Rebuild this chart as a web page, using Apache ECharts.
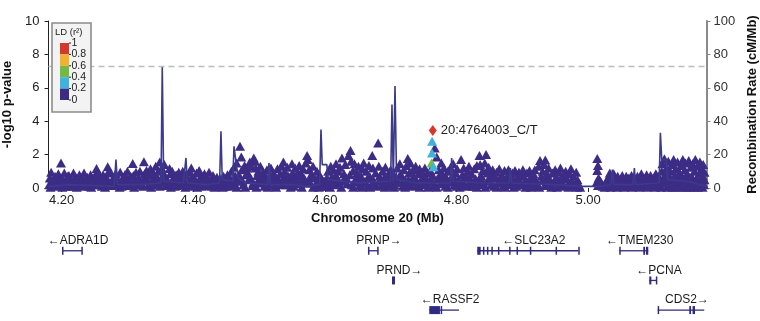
<!DOCTYPE html>
<html>
<head>
<meta charset="utf-8">
<script src="https://cdn.jsdelivr.net/npm/echarts@6/dist/echarts.min.js"></script>
<style>
  html, body { margin: 0; padding: 0; background: #fff; }
  #chart { width: 760px; height: 321px; }
</style>
</head>
<body>
<div id="chart"></div>
<script>
  // x ticks (Mb) and axis labels
  const xTicks = [4.2, 4.4, 4.6, 4.8, 5.0];
  const gwasLine = 7.3;

  // LD bins
  const ldBreaks = [0, 0.2, 0.4, 0.6, 0.8];
  const ldColors = ['#3d2c85', '#3fb3dc', '#74b944', '#f4b02f', '#d7382c'];
  const ldLabels = ['1', '0.8', '0.6', '0.4', '0.2', '0'];

  // SNPs with r2 < 0.2 : [position Mb, -log10 p]
  const snpsA = [
    [4.181,0.2],[4.182,0.6],[4.184,0.95],[4.186,0.35],[4.189,0.1],[4.190,0.7],[4.193,0.45],[4.195,0.85],[4.197,0.2],[4.199,1.5],
    [4.200,0.6],[4.202,0.3],[4.204,0.9],[4.206,0.1],[4.208,0.55],[4.211,0.75],[4.213,0.25],[4.215,0.45],[4.218,0.9],[4.220,0.1],
    [4.222,0.6],[4.225,0.3],[4.227,0.8],[4.230,0.5],[4.232,0.15],[4.234,0.9],[4.237,0.35],[4.239,0.65],[4.242,0.1],[4.244,0.8],
    [4.246,0.45],[4.249,0.2],[4.250,0.7],[4.253,1.17],[4.254,0.9],[4.256,0.35],[4.258,0.55],[4.261,0.1],[4.263,0.8],[4.265,0.4],
    [4.267,0.65],[4.270,1.27],[4.271,0.95],[4.273,0.2],[4.275,0.9],[4.277,0.5],[4.280,0.15],[4.282,0.85],[4.284,0.6],[4.286,0.3],
    [4.289,0.95],[4.291,0.1],[4.293,0.6],[4.296,0.8],[4.298,0.3],[4.300,1.0],[4.302,0.5],[4.304,0.15],[4.308,1.47],[4.309,0.75],
    [4.310,0.4],[4.313,0.95],[4.315,0.2],[4.317,0.6],[4.319,1.0],[4.321,0.3],[4.325,1.57],[4.326,0.85],[4.327,0.5],[4.329,1.05],
    [4.331,0.15],[4.333,0.8],[4.335,1.15],[4.337,0.4],[4.339,0.95],[4.341,0.2],[4.343,1.3],[4.345,0.65],[4.347,1.0],[4.349,1.55],
    [4.350,0.35],[4.352,1.2],[4.354,0.8],[4.356,1.4],[4.358,0.15],[4.360,0.5],[4.364,1.17],[4.365,0.85],[4.366,0.3],[4.368,1.0],
    [4.370,0.6],[4.372,0.1],[4.374,0.8],[4.376,0.4],[4.378,0.95],[4.380,0.2],[4.382,0.65],[4.384,1.0],[4.386,0.35],[4.388,0.8],
    [4.390,0.15],[4.392,0.55],[4.394,0.95],[4.397,1.2],[4.398,0.3],[4.399,0.7]
  ];
  const snpsB = [
    [4.401,0.1],[4.403,0.5],[4.405,0.9],[4.407,0.25],[4.409,1.05],[4.411,0.65],[4.413,0.1],[4.415,0.4],[4.417,0.85],[4.420,0.2],
    [4.422,0.6],[4.424,0.95],[4.426,0.35],[4.428,0.1],[4.430,0.75],[4.432,0.45],[4.434,0.15],[4.436,0.65],[4.438,0.35],[4.440,0.1],
    [4.442,0.55],[4.444,0.25],[4.446,0.7],[4.448,0.1],[4.450,0.45],[4.452,0.8],[4.454,0.2],[4.456,0.6],[4.458,1.0],[4.460,0.3],
    [4.462,1.25],[4.464,0.7],[4.466,1.5],[4.468,0.45],[4.471,2.5],[4.473,1.85],[4.474,1.1],[4.476,0.2],[4.478,1.35],[4.480,0.8],
    [4.482,1.2],[4.484,0.5],[4.486,1.55],[4.488,1.3],[4.490,0.15],[4.492,1.8],[4.494,1.6],[4.495,1.2],[4.497,0.75],[4.499,1.0],
    [4.500,0.35],[4.502,1.3],[4.504,0.6],[4.506,0.95],[4.508,0.1],[4.510,0.5],[4.512,1.1],[4.514,0.25],[4.516,0.75],[4.518,1.2],
    [4.520,0.4],[4.522,0.9],[4.524,0.15],[4.526,0.6],[4.528,1.15],[4.530,0.3],[4.532,0.85],[4.534,1.3],[4.536,0.5],[4.537,1.55],
    [4.539,1.0],[4.541,0.2],[4.543,1.25],[4.545,0.7],[4.547,0.35],[4.550,1.45],[4.551,0.9],[4.553,0.1],[4.555,1.2],[4.557,0.55],
    [4.559,0.95],[4.561,1.35],[4.563,0.25],[4.565,0.8],[4.567,1.15],[4.569,0.45],[4.571,1.5],[4.573,1.95],[4.574,1.7],[4.576,1.1],
    [4.578,0.3],[4.580,0.85],[4.582,1.3],[4.584,0.6],[4.586,0.15],[4.588,1.0],[4.590,0.45],[4.592,0.8],[4.594,0.2],[4.596,0.5],
    [4.598,0.1],[4.599,0.4]
  ];
  const snpsC = [
    [4.601,0.1],[4.603,0.6],[4.605,1.0],[4.607,0.3],[4.609,1.3],[4.611,0.7],[4.613,1.1],[4.615,0.2],[4.617,1.45],[4.619,0.5],
    [4.621,1.0],[4.623,1.25],[4.626,1.8],[4.627,0.4],[4.629,0.85],[4.631,1.4],[4.633,0.6],[4.636,1.95],[4.639,2.25],[4.640,1.6],
    [4.641,0.2],[4.643,1.05],[4.645,1.45],[4.647,0.55],[4.649,0.9],[4.651,1.3],[4.653,0.15],[4.655,0.7],[4.657,1.15],[4.659,1.5],
    [4.661,0.4],[4.663,1.0],[4.665,0.1],[4.667,1.35],[4.669,0.65],[4.672,1.95],[4.673,1.2],[4.675,0.3],[4.677,0.9],[4.681,2.7],
    [4.682,1.3],[4.684,0.5],[4.686,0.15],[4.688,1.0],[4.690,0.6],[4.692,1.25],[4.694,0.25],[4.696,0.8],[4.698,0.1],[4.700,1.1],
    [4.702,0.45],[4.704,0.85],[4.706,0.2],[4.708,0.6],[4.710,1.2],[4.712,0.35],[4.714,1.45],[4.716,0.8],[4.718,0.1],[4.720,1.1],
    [4.722,0.5],[4.724,1.35],[4.725,0.2],[4.726,1.77],[4.728,0.9],[4.730,1.5],[4.732,0.35],[4.734,1.1],[4.736,0.6],[4.738,1.3],
    [4.740,0.15],[4.742,0.85],[4.744,1.15],[4.746,0.45],[4.748,0.95],[4.750,0.2],[4.752,1.2],[4.754,0.6],[4.756,0.9],[4.758,0.1],
    [4.760,1.05],[4.762,0.4],[4.764,0.75],[4.767,2.4],[4.770,1.86],[4.771,0.55],[4.773,1.1],[4.775,0.25],[4.777,1.5],[4.779,0.8],
    [4.781,1.2],[4.783,0.1],[4.785,0.6],[4.787,1.0],[4.789,0.35],[4.791,1.25],[4.793,0.7],[4.795,1.45],[4.797,0.2],[4.799,0.9],
    [4.801,1.15],[4.803,0.5]
  ];
  const snpsD = [
    [4.805,0.3],[4.807,1.7],[4.809,0.8],[4.811,1.2],[4.813,0.15],[4.815,0.6],[4.817,1.0],[4.819,1.3],[4.821,0.4],[4.823,0.85],
    [4.825,0.1],[4.827,1.15],[4.829,0.55],[4.831,1.35],[4.833,0.25],[4.835,1.95],[4.836,1.4],[4.838,0.7],[4.840,1.05],[4.842,0.2],
    [4.843,1.5],[4.845,2.0],[4.847,0.9],[4.849,1.25],[4.851,0.4],[4.853,0.75],[4.855,1.1],[4.857,0.1],[4.859,0.6],[4.861,0.95],
    [4.863,0.3],[4.865,1.15],[4.867,0.5],[4.869,0.8],[4.871,0.15],[4.873,1.05],[4.875,0.4],[4.877,0.7],[4.879,1.1],[4.881,0.2],
    [4.883,0.55],[4.885,0.9],[4.887,0.3],[4.889,1.05],[4.891,0.1],[4.893,0.65],[4.895,0.95],[4.897,0.35],[4.899,0.75],[4.901,1.1],
    [4.903,0.2],[4.905,0.5],[4.907,0.9],[4.909,0.15],[4.911,1.05],[4.913,0.6],[4.915,0.3],[4.917,0.85],[4.919,1.1],[4.921,0.45],
    [4.923,0.1],[4.925,1.3],[4.927,1.65],[4.929,0.7],[4.931,1.0],[4.933,1.4],[4.935,1.67],[4.936,0.35],[4.938,0.85],[4.940,1.2],
    [4.942,0.5],[4.944,0.15],[4.946,0.9],[4.948,0.4],[4.950,1.1],[4.952,0.65],[4.954,0.2],[4.956,0.95],[4.958,1.2],[4.960,0.4],
    [4.962,0.75],[4.964,0.1],[4.966,1.0],[4.968,0.55],[4.970,0.25],[4.972,0.85],[4.974,1.15],[4.976,0.4],[4.978,0.7],[4.980,0.1],
    [4.982,0.95],[4.984,0.5],[4.986,0.2],[4.988,0.05]
  ];
  const snpsE = [
    [5.014,1.77],[5.015,1.35],[5.014,1.05],[5.016,0.6],[5.015,0.15],[5.019,0.4],[5.022,0.1],[5.027,0.3],[5.031,0.65],[5.033,0.9],
    [5.035,0.2],[5.037,0.55],[5.039,0.85],[5.041,0.1],[5.043,0.4],[5.045,0.7],[5.047,0.2],[5.050,0.5],[5.052,0.75],[5.054,0.1],
    [5.056,0.45],[5.058,0.7],[5.060,0.25],[5.062,0.6],[5.064,0.1],[5.066,0.75],[5.068,0.35],[5.070,0.1],[5.072,0.55],[5.075,0.7],
    [5.077,0.2],[5.079,0.45],[5.081,0.85],[5.083,0.1],[5.085,0.6],[5.087,0.3],[5.089,0.8],[5.091,0.15],[5.093,0.5],[5.095,0.75],
    [5.097,0.25],[5.099,0.6],[5.101,0.1],[5.103,0.85],[5.105,0.4],[5.107,0.7],[5.109,0.15],[5.110,0.5],[5.112,1.0],[5.113,1.45],
    [5.115,0.3],[5.116,1.75],[5.118,0.8],[5.119,1.2],[5.121,0.1],[5.122,1.6],[5.124,0.55],[5.125,1.0],[5.127,1.4],[5.129,0.2],
    [5.130,1.7],[5.132,0.75],[5.133,1.15],[5.135,0.4],[5.136,1.55],[5.138,0.1],[5.139,0.95],[5.141,1.35],[5.142,0.6],[5.144,1.7],
    [5.145,0.25],[5.147,1.1],[5.148,1.5],[5.150,0.45],[5.151,0.85],[5.153,1.65],[5.154,0.15],[5.156,1.25],[5.157,0.7],[5.159,1.45],
    [5.160,0.35],[5.162,1.0],[5.163,1.7],[5.165,0.55],[5.166,1.3],[5.168,0.1],[5.169,0.9],[5.170,1.55],[5.172,0.4],[5.173,1.15],
    [5.174,0.75],[5.175,1.4],[5.176,0.2],[5.177,0.95]
  ];
  // the dense low band under the rest
  const snpsLow = [
    [4.183,0.05],[4.187,0.4],[4.191,0.15],[4.196,0.55],[4.201,0.05],[4.205,0.35],[4.209,0.7],[4.214,0.1],[4.218,0.45],[4.223,0.05],
    [4.227,0.3],[4.231,0.65],[4.236,0.1],[4.240,0.4],[4.245,0.05],[4.249,0.5],[4.253,0.2],[4.258,0.75],[4.262,0.35],[4.266,0.05],
    [4.270,0.5],[4.275,0.15],[4.279,0.6],[4.283,0.3],[4.288,0.05],[4.292,0.4],[4.297,0.55],[4.301,0.15],[4.305,0.7],[4.310,0.05],
    [4.314,0.35],[4.318,0.5],[4.323,0.1],[4.327,0.7],[4.331,0.45],[4.336,0.05],[4.340,0.6],[4.344,0.3],[4.349,0.1],[4.353,0.5],
    [4.357,0.75],[4.361,0.3],[4.366,0.05],[4.370,0.4],[4.375,0.15],[4.379,0.6],[4.383,0.35],[4.388,0.05],[4.392,0.3],[4.396,0.5],
    [4.402,0.3],[4.406,0.05],[4.410,0.45],[4.415,0.15],[4.419,0.7],[4.423,0.35],[4.428,0.5],[4.432,0.05],[4.437,0.3],[4.441,0.4],
    [4.445,0.05],[4.449,0.25],[4.453,0.5],[4.458,0.1],[4.462,0.55],[4.466,0.05],[4.470,0.75],[4.475,0.4],[4.479,0.05],[4.483,0.9],
    [4.487,0.6],[4.491,0.3],[4.496,0.05],[4.500,0.55],[4.505,0.3],[4.509,0.75],[4.513,0.05],[4.517,0.45],[4.522,0.65],[4.526,0.05],
    [4.530,0.5],[4.535,0.2],[4.539,0.7],[4.543,0.4],[4.548,0.05],[4.552,0.6],[4.556,0.3],[4.561,0.75],[4.565,0.05],[4.569,0.55],
    [4.574,0.3],[4.578,0.65],[4.582,0.05],[4.587,0.3],[4.591,0.05],
    [4.604,0.3],[4.608,0.05],[4.612,0.5],[4.617,0.75],[4.621,0.3],[4.625,0.05],[4.630,0.55],[4.634,0.25],[4.638,0.8],[4.643,0.05],
    [4.647,0.35],[4.652,0.6],[4.656,0.05],[4.660,0.3],[4.665,0.6],[4.669,0.05],[4.674,0.45],[4.678,0.1],[4.683,0.7],[4.687,0.4],
    [4.691,0.05],[4.696,0.5],[4.700,0.3],[4.705,0.05],[4.709,0.45],[4.713,0.7],[4.718,0.35],[4.722,0.05],[4.727,0.5],[4.731,0.1],
    [4.735,0.7],[4.740,0.4],[4.744,0.05],[4.748,0.6],[4.753,0.3],[4.757,0.05],[4.761,0.5],[4.766,0.2],[4.770,0.05],[4.774,0.7],
    [4.779,0.35],[4.783,0.55],[4.787,0.05],[4.792,0.4],[4.796,0.65],[4.800,0.1],
    [4.805,0.05],[4.809,0.4],[4.814,0.7],[4.818,0.1],[4.822,0.5],[4.826,0.25],[4.831,0.05],[4.835,0.6],[4.840,0.35],[4.844,0.05],
    [4.848,0.5],[4.853,0.2],[4.857,0.8],[4.861,0.05],[4.866,0.4],[4.870,0.6],[4.874,0.05],[4.879,0.35],[4.883,0.75],[4.887,0.05],
    [4.892,0.45],[4.896,0.2],[4.900,0.7],[4.905,0.05],[4.909,0.4],[4.913,0.05],[4.918,0.55],[4.922,0.25],[4.926,0.05],[4.931,0.5],
    [4.935,0.15],[4.939,0.65],[4.944,0.05],[4.948,0.35],[4.953,0.05],[4.957,0.45],[4.961,0.25],[4.965,0.65],[4.970,0.05],[4.974,0.4],
    [4.978,0.2],[4.983,0.05],
    [5.013,0.35],[5.025,0.05],[5.029,0.5],[5.034,0.05],[5.038,0.3],[5.044,0.05],[5.049,0.3],[5.055,0.05],[5.061,0.35],[5.067,0.05],
    [5.073,0.3],[5.078,0.05],[5.084,0.35],[5.090,0.05],[5.096,0.45],[5.102,0.05],[5.108,0.35],[5.111,0.05],[5.114,0.6],[5.117,0.35],
    [5.120,0.05],[5.123,0.75],[5.126,0.4],[5.128,0.05],[5.131,0.5],[5.134,0.05],[5.137,0.7],[5.140,0.3],[5.143,0.05],[5.146,0.6],
    [5.149,0.05],[5.152,0.4],[5.155,0.05],[5.158,0.65],[5.161,0.05],[5.164,0.35],[5.167,0.05],[5.171,0.6],[5.174,0.05],[5.177,0.5]
  ];

  // SNPs in LD with the lead : [position, -log10 p, r2]
  const snpsLD = [[4.7630,2.8,0.32],[4.7628,2.1,0.28],[4.7622,1.5,0.5],[4.7650,1.27,0.3]];
  const leadSnp = [4.764003, 3.45];
  const leadName = '20:4764003_C/T';

  // recombination rate : [position, cM/Mb]
  const recomb = [
    [4.180,1],[4.21,2],[4.25,1.5],[4.280,1],[4.2825,17],[4.285,2],[4.32,2],[4.351,3],[4.3529,73],[4.355,4],
    [4.385,3],[4.387,2],[4.3889,18],[4.391,3],[4.42,2],[4.440,3],[4.4421,34],[4.444,5],[4.460,4],[4.4619,25],
    [4.468,6],[4.48,3],[4.513,2],[4.5151,15],[4.517,2],[4.55,2],[4.57,1],[4.592,2],[4.5941,35],[4.596,14],
    [4.603,14],[4.605,5],[4.65,3],[4.700,4],[4.7020,50],[4.704,4],[4.705,5],[4.7066,61],[4.709,5],[4.74,3],
    [4.791,3],[4.7927,18],[4.795,4],[4.84,3],[4.880,3],[4.8819,12],[4.884,3],[4.95,2],[4.99,1],[5.02,1],
    [5.035,2],[5.0370,11],[5.039,2],[5.068,2],[5.0704,12],[5.072,2],[5.108,3],[5.1099,33],[5.112,17],[5.119,17],
    [5.121,5],[5.15,4],[5.17,2],[5.18,1]
  ];

  // genes
  const geneNames  = ['ADRA1D', 'PRNP', 'SLC23A2', 'TMEM230', 'PRND', 'PCNA', 'RASSF2', 'CDS2'];
  const geneStart  = [4.2005, 4.6655, 4.8316, 5.0474, 4.7020, 5.0930, 4.7587, 5.1058];
  const geneEnd    = [4.2309, 4.6807, 4.9853, 5.0915, 4.7066, 5.1043, 4.8038, 5.1766];
  const geneRow    = [0, 0, 0, 0, 1, 1, 2, 2];
  const geneStrand = [-1, 1, -1, -1, 1, -1, -1, 1];
  const geneExons  = [
    [[4.2005,4.2015],[4.2299,4.2309]],
    [[4.6655,4.6672],[4.6795,4.6807]],
    [[4.8316,4.8368],[4.8402,4.8410],[4.8463,4.8471],[4.8530,4.8538],[4.8630,4.8638],[4.8800,4.8804],[4.8913,4.8917],[4.9115,4.9119],[4.9506,4.9510],[4.9851,4.9853]],
    [[5.0474,5.0484],[5.0839,5.0866],[5.0880,5.0915]],
    [[4.7020,4.7066]],
    [[5.0930,5.0962],[5.1030,5.1043]],
    [[4.7587,4.7749],[4.7760,4.7768]],
    [[5.1058,5.1068],[5.1538,5.1565],[5.1588,5.1625]]
  ];
  const geneColor = '#2f2b80';

  function ldColor(r2) {
    for (let i = ldBreaks.length - 1; i >= 0; i--) {
      if (r2 >= ldBreaks[i]) return ldColors[i];
    }
    return ldColors[0];
  }

  // LD legend box (top-left of the plot)
  function legendGraphic() {
    let els = [
      { type: 'rect', shape: { x: 52, y: 23, width: 39, height: 89 },
        style: { fill: '#f3f3f3', stroke: '#8c8c8c', lineWidth: 1.6 } },
      { type: 'text', x: 55, y: 27,
        style: { text: 'LD (r²)', fontSize: 9.5, fill: '#222', fontFamily: 'Liberation Sans, Arial, sans-serif' } }
    ];
    let top = 43, h = 11.4;
    for (let i = 0; i < ldColors.length; i++) {
      els.push({ type: 'rect', shape: { x: 60, y: top + i * h, width: 9, height: h },
        style: { fill: ldColors[ldColors.length - 1 - i] } });
    }
    for (let i = 0; i < ldLabels.length; i++) {
      let y = top + i * h;
      els.push({ type: 'line', shape: { x1: 69, y1: y, x2: 71, y2: y }, style: { stroke: '#222', lineWidth: 1 } });
      els.push({ type: 'text', x: 71.5, y: y - 5.5,
        style: { text: ldLabels[i], fontSize: 10.5, fill: '#222', fontFamily: 'Liberation Sans, Arial, sans-serif' } });
    }
    return els.map(e => Object.assign(e, { z: 100 }));
  }

  function renderGene(params, api) {
    let i = params.dataIndex;
    let row = geneRow[i];
    let s = api.coord([geneStart[i], row]);
    let e = api.coord([geneEnd[i], row]);
    let children = [{
      type: 'line',
      shape: { x1: s[0], y1: s[1], x2: e[0], y2: e[1] },
      style: { stroke: geneColor, lineWidth: 1.3 }
    }];
    geneExons[i].forEach(function (ex) {
      let a = api.coord([ex[0], row])[0];
      let b = api.coord([ex[1], row])[0];
      children.push({
        type: 'rect',
        shape: { x: a, y: s[1] - 4, width: Math.max(b - a, 1.5), height: 8 },
        style: { fill: geneColor }
      });
    });
    let label = geneStrand[i] < 0 ? '←' + geneNames[i] : geneNames[i] + '→';
    children.push({
      type: 'text',
      x: (s[0] + e[0]) / 2 + 6,
      y: s[1] - 10,
      style: {
        text: label, fill: '#1a1a1a', fontSize: 12, align: 'center', verticalAlign: 'middle',
        fontFamily: 'Liberation Sans, Arial, sans-serif'
      }
    });
    return { type: 'group', children: children };
  }

  let myChart = echarts.init(document.getElementById('chart'));

  let font = 'Liberation Sans, Arial, sans-serif';

  let option = {
    backgroundColor: '#ffffff',
    animation: false,
    textStyle: { fontFamily: font },
    graphic: legendGraphic(),
    grid: [
      { left: 48.5, right: 53.5, top: 21, bottom: 133, outerBoundsMode: 'none', containLabel: false },
      { left: 48.5, right: 53.5, top: 230, bottom: 2, outerBoundsMode: 'none', containLabel: false }
    ],
    xAxis: [
      {
        type: 'value', gridIndex: 0, min: 4.18, max: 5.18,
        name: 'Chromosome 20 (Mb)', nameLocation: 'middle', nameGap: 20,
        nameTextStyle: { fontSize: 13, fontWeight: 'bold', color: '#111' },
        axisLine: { show: false },
        axisTick: { show: true, length: 4, customValues: xTicks, lineStyle: { color: '#222' } },
        axisLabel: { customValues: xTicks, margin: 6, fontSize: 13, color: '#222', formatter: v => v.toFixed(2) },
        splitLine: { show: false }
      },
      {
        type: 'value', gridIndex: 1, min: 4.18, max: 5.18, show: false
      }
    ],
    yAxis: [
      {
        type: 'value', gridIndex: 0, min: 0, max: 10, interval: 2,
        name: '-log10 p-value', nameLocation: 'middle', nameGap: 34,
        nameTextStyle: { fontSize: 13, fontWeight: 'bold', color: '#111' },
        axisLine: { show: true, lineStyle: { color: '#222', width: 1 } },
        axisTick: { show: true, length: 4, lineStyle: { color: '#222' } },
        axisLabel: { fontSize: 13, color: '#222', margin: 9 },
        splitLine: { show: false }
      },
      {
        type: 'value', gridIndex: 0, position: 'right', min: 0, max: 100, interval: 20,
        name: 'Recombination Rate (cM/Mb)', nameLocation: 'middle', nameGap: 33, nameRotate: 90,
        nameTextStyle: { fontSize: 13, fontWeight: 'bold', color: '#111' },
        axisLine: { show: true, lineStyle: { color: '#8a8a8a', width: 2 } },
        axisTick: { show: true, length: 4, lineStyle: { color: '#8a8a8a' } },
        axisLabel: { fontSize: 13, color: '#333', margin: 7 },
        splitLine: { show: false }
      },
      {
        type: 'value', gridIndex: 1, min: -0.7, max: 2.3, inverse: true, show: false
      }
    ],
    series: [
      {
        type: 'scatter', xAxisIndex: 0, yAxisIndex: 0,
        data: snpsLow.concat(snpsA, snpsB, snpsC, snpsD, snpsE),
        symbol: 'triangle', symbolSize: [10, 9],
        itemStyle: { color: ldColors[0], opacity: 1 },
        markLine: {
          silent: true, symbol: 'none', label: { show: false },
          lineStyle: { color: '#bdbdbd', type: [6, 4], width: 1.3 },
          data: [{ yAxis: gwasLine }]
        },
        z: 2
      },
      {
        type: 'scatter', xAxisIndex: 0, yAxisIndex: 0,
        data: snpsLD,
        symbol: 'triangle', symbolSize: [10, 9],
        itemStyle: { color: p => ldColor(p.value[2]), opacity: 1 },
        z: 3
      },
      {
        type: 'line', xAxisIndex: 0, yAxisIndex: 1,
        data: recomb, showSymbol: false, symbol: 'none',
        lineStyle: { color: '#3b3a8c', width: 1.6 },
        z: 4
      },
      {
        type: 'scatter', xAxisIndex: 0, yAxisIndex: 0,
        data: [leadSnp],
        symbol: 'diamond', symbolSize: [8, 11],
        itemStyle: { color: ldColors[4], opacity: 1 },
        label: {
          show: true, position: 'right', distance: 4,
          formatter: leadName, fontSize: 13, color: '#222'
        },
        z: 5
      },
      {
        type: 'custom', xAxisIndex: 1, yAxisIndex: 2,
        renderItem: renderGene,
        clip: false,
        encode: { x: [0, 1], y: 2 },
        data: geneNames.map((n, i) => [geneStart[i], geneEnd[i], geneRow[i]])
      }
    ]
  };

  myChart.setOption(option);
</script>
</body>
</html>
